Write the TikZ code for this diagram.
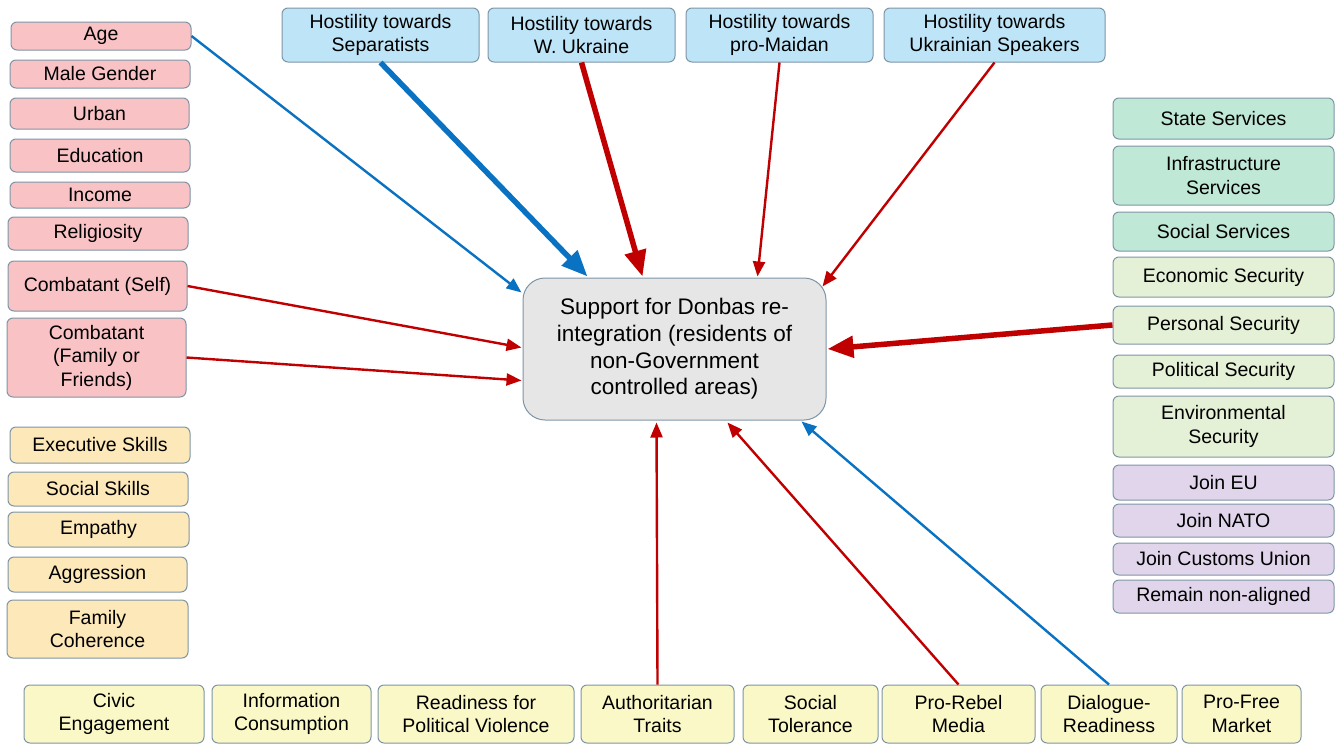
\documentclass[tikz,border=0pt]{standalone}
\usepackage{fontspec}
\setmainfont{Liberation Sans}
\usetikzlibrary{arrows.meta,calc}
\definecolor{bordc}{HTML}{7E95A6}
\definecolor{pinkf}{HTML}{F9C3C6}
\definecolor{orangef}{HTML}{FCE8B8}
\definecolor{yellowf}{HTML}{FAF8C6}
\definecolor{bluef}{HTML}{BEE5F7}
\definecolor{tealf}{HTML}{C0E8D6}
\definecolor{greenf}{HTML}{E5F1D6}
\definecolor{purplef}{HTML}{E1D5EC}
\definecolor{grayf}{HTML}{E6E6E6}
\definecolor{arblue}{HTML}{0A72C2}
\definecolor{arred}{HTML}{C00000}
\tikzset{
  bx/.style={draw=bordc, line width=1pt, rounded corners=6pt, align=center, inner sep=0pt,
    font=\fontsize{19.5}{23.5}\selectfont},
  pinkbox/.style={bx, fill=pinkf},
  orangebox/.style={bx, fill=orangef},
  yellowbox/.style={bx, fill=yellowf},
  bluebox/.style={bx, fill=bluef},
  tealbox/.style={bx, fill=tealf},
  greenbox/.style={bx, fill=greenf},
  purplebox/.style={bx, fill=purplef},
  mainbox/.style={draw=bordc, line width=1pt, rounded corners=22pt, align=center, inner sep=0pt,
    fill=grayf, font=\fontsize{22.5}{26.7}\selectfont},
  thinarr/.style={line width=2.4pt, -{Triangle[length=15pt,width=12pt]}},
  thickarr/.style={line width=5.5pt, -{Triangle[length=26pt,width=21pt]}},
}
\begin{document}
\begin{tikzpicture}[x=1pt,y=-1pt]
\useasboundingbox (0,0) rectangle (1340,744);
% left pink
\node[pinkbox, minimum width=180, minimum height=28] (age) at (101,36) {Age};
\node[pinkbox, minimum width=180, minimum height=28] (male) at (100,74) {Male Gender};
\node[pinkbox, minimum width=179, minimum height=31] (urban) at (99.5,113.5) {Urban};
\node[pinkbox, minimum width=180, minimum height=33] (edu) at (100,155.5) {Education};
\node[pinkbox, minimum width=180, minimum height=26] (income) at (100,195) {Income};
\node[pinkbox, minimum width=180, minimum height=33] (relig) at (98,233.5) {Religiosity};
\node[pinkbox, minimum width=179, minimum height=50] (cself) at (97.5,286) {Combatant (Self)};
\node[pinkbox, minimum width=179, minimum height=79] (cfam) at (96.5,357.5) {Combatant\\(Family or\\Friends)};
% left orange
\node[orangebox, minimum width=180, minimum height=36] (exec) at (100,445) {Executive Skills};
\node[orangebox, minimum width=180, minimum height=34] (socsk) at (98,489) {Social Skills};
\node[orangebox, minimum width=181, minimum height=35] (empathy) at (98.5,529.5) {Empathy};
\node[orangebox, minimum width=179, minimum height=35] (aggr) at (97.5,574.5) {Aggression};
\node[orangebox, minimum width=181, minimum height=58] (famcoh) at (97.5,629) {Family\\Coherence};
% bottom yellow
\node[yellowbox, minimum width=180, minimum height=58] (civic) at (114,714) {Civic\\Engagement};
\node[yellowbox, minimum width=159, minimum height=58] (info) at (291.5,714) {Information\\Consumption};
\node[yellowbox, minimum width=196, minimum height=58] (ready) at (476,714) {Readiness for\\Political Violence};
\node[yellowbox, minimum width=153, minimum height=58] (auth) at (657.5,714) {Authoritarian\\Traits};
\node[yellowbox, minimum width=135, minimum height=58] (soctol) at (810.5,714) {Social\\Tolerance};
\node[yellowbox, minimum width=153, minimum height=58] (rebel) at (958.5,714) {Pro-Rebel\\Media};
\node[yellowbox, minimum width=136, minimum height=58] (dialog) at (1109,714) {Dialogue-\\Readiness};
\node[yellowbox, minimum width=119, minimum height=58] (market) at (1241.5,714) {Pro-Free\\Market};
% top blue
\node[bluebox, minimum width=197, minimum height=54] (sep) at (380.5,35) {Hostility towards\\Separatists};
\node[bluebox, minimum width=187, minimum height=54] (wukr) at (581.5,35) {Hostility towards\\W. Ukraine};
\node[bluebox, minimum width=187, minimum height=54] (maidan) at (779.5,35) {Hostility towards\\pro-Maidan};
\node[bluebox, minimum width=221, minimum height=54] (speak) at (994.5,35) {Hostility towards\\Ukrainian Speakers};
% right column
\node[tealbox, minimum width=221, minimum height=41] (state) at (1223.5,118.5) {State Services};
\node[tealbox, minimum width=221, minimum height=59] (infra) at (1223.5,175.5) {Infrastructure\\Services};
\node[tealbox, minimum width=221, minimum height=39] (socserv) at (1223.5,231.5) {Social Services};
\node[greenbox, minimum width=221, minimum height=40] (econ) at (1223.5,277) {Economic Security};
\node[greenbox, minimum width=221, minimum height=38] (personal) at (1223.5,325) {Personal Security};
\node[greenbox, minimum width=221, minimum height=33] (political) at (1223.5,371.5) {Political Security};
\node[greenbox, minimum width=221, minimum height=61] (env) at (1223.5,426.5) {Environmental\\Security};
\node[purplebox, minimum width=221, minimum height=35] (eu) at (1223.5,482.5) {Join EU};
\node[purplebox, minimum width=221, minimum height=33] (nato) at (1223.5,520.5) {Join NATO};
\node[purplebox, minimum width=221, minimum height=32] (customs) at (1223.5,559) {Join Customs Union};
\node[purplebox, minimum width=221, minimum height=33] (remain) at (1223.5,596.5) {Remain non-aligned};
% central
\node[mainbox, minimum width=303, minimum height=142] (main) at (674.5,349) {Support for Donbas re-\\integration (residents of\\non-Government\\controlled areas)};
% arrows
\draw[thinarr, arblue] (age.east) -- ($(main.north west)+(-1,15)$);
\draw[thickarr, arblue] (sep.south) -- ($(main.north west)+(65,-1)$);
\draw[thickarr, arred] (wukr.south) -- ($(main.north west)+(120,-1)$);
\draw[thinarr, arred] (maidan.south) -- ($(main.north west)+(235,-1)$);
\draw[thinarr, arred] (speak.south) -- ($(main.north east)+(-4,9)$);
\draw[thinarr, arred] (cself.east) -- ($(main.north west)+(-1,70)$);
\draw[thinarr, arred] (cfam.east) -- ($(main.north west)+(-1,103)$);
\draw[thickarr, arred] (personal.west) -- ($(main.east)+(1,0)$);
\draw[thinarr, arred] (auth.north) -- ($(main.south west)+(134,2)$);
\draw[thinarr, arred] (rebel.north) -- ($(main.south west)+(205,2)$);
\draw[thinarr, arblue] (dialog.north) -- ($(main.south west)+(279,1)$);
\end{tikzpicture}
\end{document}
